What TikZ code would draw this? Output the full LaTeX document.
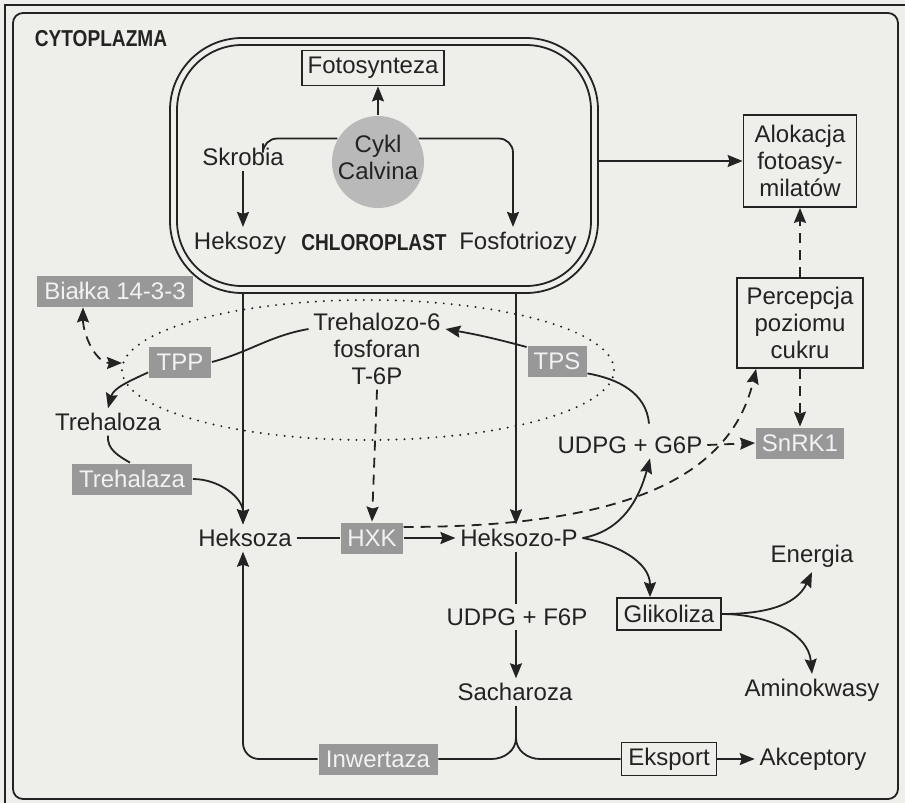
\documentclass[tikz,border=0pt]{standalone}
\usepackage{fontspec}
\usepackage{graphicx}
\setmainfont{Liberation Sans}
\usetikzlibrary{arrows.meta}
\definecolor{paper}{RGB}{238,238,234}
\definecolor{ink}{RGB}{35,35,35}
\definecolor{tag}{RGB}{152,152,152}
\definecolor{calvinfill}{RGB}{185,185,185}
\definecolor{tagtext}{RGB}{242,242,242}
\tikzset{
  every node/.style={font=\fontsize{12}{13.5}\selectfont, text=ink, inner sep=2pt},
  heading/.style={font=\fontsize{11.5}{12}\selectfont\bfseries},
  frame/.style={draw=ink, align=center, inner xsep=3pt, inner ysep=2pt},
  tagbox/.style={fill=tag, text=tagtext, inner xsep=3pt, minimum height=15.5pt},
  tip/.tip={Stealth[length=7.5pt,width=6pt,inset=1pt]},
  arr/.style={-tip},
  dsh/.style={dash pattern=on 5pt off 3.5pt},
  dots/.style={line width=1.1pt, line cap=round, dash pattern=on 0pt off 4pt},
}
\begin{document}
\begin{tikzpicture}[x=0.5pt, y=-0.5pt, color=ink, line width=0.9pt]
% page
\fill[paper] (0,0) rectangle (905,803);
\useasboundingbox (0,0) rectangle (905,803);

% cytoplasm frame
\draw (5,803) -- (5,5) -- (905,5);
\draw[rounded corners=5pt] (13,13) rectangle (898,799);
\node[heading, anchor=west] (cyto) at (30,39) {\scalebox{0.83}[1]{CYTOPLAZMA}};

% chloroplast envelope
\draw[rounded corners=36pt] (170,38) rectangle (598,293);
\draw[rounded corners=32.5pt] (177,45) rectangle (591,286);

% trehalose region
\draw[dots] (368,370) ellipse [x radius=123pt, y radius=35pt];
\coordinate (ellL) at (122,363);

% chloroplast contents
\node[frame, minimum height=17.5pt] (foto) at (373,68) {Fotosynteza};
\node[circle, fill=calvinfill, minimum size=46pt] (calvin) at (378,162) {};
\node[align=center] (calvintxt) at (378,157) {Cykl\\Calvina};
\node[fill=paper] (skrobia) at (243,157) {Skrobia};
\node (heksozy) at (240,243) {Heksozy};
\node[heading] (chloro) at (374,243) {\scalebox{0.83}[1]{CHLOROPLAST}};
\node (fosfo) at (518,243) {Fosfotriozy};

% right column
\node[frame, minimum width=56.5pt, minimum height=46pt] (alok) at (800,161) {Alokacja\\fotoasy-\\milatów};
\node[frame, minimum width=63pt, minimum height=45pt] (perc) at (800,323) {Percepcja\\poziomu\\cukru};
\node[tagbox, minimum width=43.5pt] (snrk) at (800,443) {SnRK1};

% trehalose branch
\node[tagbox, minimum width=78pt] (bialka) at (115,291) {Białka 14-3-3};
\node[tagbox, minimum width=31pt] (tpp) at (180,362) {TPP};
\node (trehaloza) at (108,422) {Trehaloza};
\node[tagbox, minimum width=60pt] (trehalaza) at (132,479) {Trehalaza};
\node[align=center] (t6p) at (377,349) {Trehalozo-6\\fosforan\\T-6P};
\node[tagbox, minimum width=29.5pt] (tps) at (557,361) {TPS};
\node (udpgg) at (630,445) {UDPG + G6P};

% hexose level
\node (heksoza) at (245,538) {Heksoza};
\node[tagbox, minimum width=30pt] (hxk) at (372,538) {HXK};
\node (heksozop) at (519,538) {Heksozo-P};
\node[frame, minimum width=52pt, minimum height=16pt] (glik) at (669,614) {Glikoliza};
\node (energia) at (812,556) {Energia};
\node (amino) at (812,690) {Aminokwasy};
\node (udpgf) at (517,617) {UDPG + F6P};
\node (sach) at (515,692) {Sacharoza};
\node[tagbox, minimum width=59.5pt] (inw) at (378,759) {Inwertaza};
\node[frame, minimum width=47.5pt, minimum height=16.5pt] (eksport) at (669,759) {Eksport};
\node (akc) at (813,759) {Akceptory};

% connectors inside the chloroplast
\draw[arr] (calvin.north) -- (calvin.north |- foto.south);
\draw[rounded corners=7pt] (calvin.150) -| ([xshift=10pt]skrobia.north);
\draw[arr] (skrobia.south) -- (skrobia.south |- heksozy.north);
\draw[arr, rounded corners=7pt] (calvin.30) -| ([xshift=-2.5pt]fosfo.north);

% export from the chloroplast
\coordinate (chlR) at (598,161);
\coordinate (chlB1) at (243,293);
\coordinate (chlB2) at (516,293);
\draw[arr] (chlR) -- (alok.west);
\draw[arr] (chlB1) -- (chlB1 |- heksoza.north);
\draw[arr] (chlB2) -- (chlB2 |- heksozop.north);

% sugar sensing
\draw[arr, dsh] (perc.north) -- (alok.south);
\draw[arr, dsh] (perc.south) -- (snrk.north);
\draw[arr, dsh] (udpgg.east) -- (snrk.west);
\draw[arr, dsh] ([yshift=5.5pt]hxk.east) .. controls (620,527) and (730,480) .. ([xshift=10pt]perc.south west);
\draw[arr, dsh] (t6p.south) -- (hxk.north);

% trehalose cycle
\draw[dsh, tip-tip] ([xshift=-16pt]bialka.south) to[out=-90, in=180] (ellL);
\draw ([yshift=10pt]t6p.west) to[out=190, in=15] (tpp.east);
\draw[arr] ([yshift=3pt]tpp.south west) to[out=205, in=75] (trehaloza.north);
\draw (trehaloza.south) to[out=-95, in=150] ([xshift=-1pt]trehalaza.north);
\draw[arr] (trehalaza.east) to[out=0, in=90] (chlB1 |- heksoza.north);
\draw[arr] ([yshift=7pt]tps.west) to[out=165, in=-10] ([yshift=10pt]t6p.east);
\draw ([yshift=2pt]tps.south east) to[out=-10, in=95] ([xshift=9.5pt, yshift=4pt]udpgg.north);

% hexose phosphorylation and fates
\draw (heksoza.east) -- (hxk.west);
\draw[arr] (hxk.east) -- (heksozop.west);
\draw[arr] (heksozop.east) to[out=10, in=-105] ([xshift=10pt]udpgg.south);
\draw[arr] (heksozop.east) to[out=-10, in=90] ([xshift=-9.5pt]glik.north);
\draw[arr] (glik.east) to[out=0, in=-115] (energia.south);
\draw[arr] (glik.east) to[out=0, in=95] (amino.north);

% sucrose synthesis, export and inversion
\draw (chlB2 |- heksozop.south) -- (chlB2 |- udpgf.north);
\draw[arr] (chlB2 |- udpgf.south) -- (chlB2 |- sach.north);
\coordinate (sfork) at (516,738);
\draw (chlB2 |- sach.south) -- (sfork);
\draw (inw.east) -- ++(53,0) to[out=0, in=-90] (sfork);
\draw (sfork) to[out=-90, in=180] ++(24,21) -- (eksport.west);
\draw[arr] (eksport.east) -- (akc.west);
\draw[arr, rounded corners=8pt] (inw.west) -| (chlB1 |- heksoza.south);
\end{tikzpicture}
\end{document}
